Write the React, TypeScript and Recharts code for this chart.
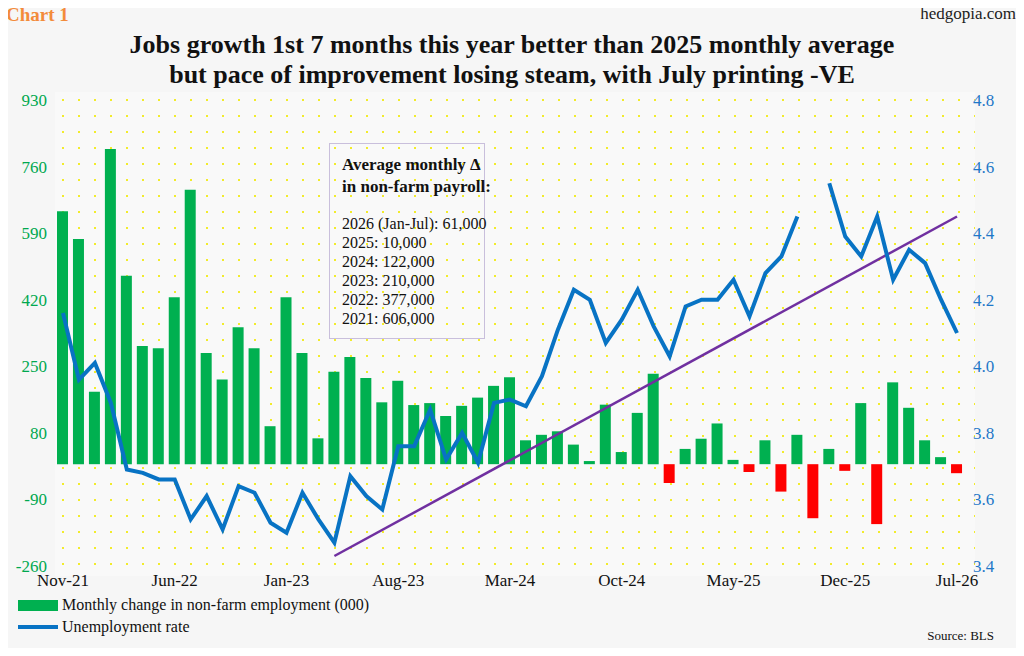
import { Bar, Cell, ComposedChart, Line, XAxis, YAxis } from 'recharts';

const months = [
  'Nov-21', 'Dec-21',
  'Jan-22', 'Feb-22', 'Mar-22', 'Apr-22', 'May-22', 'Jun-22', 'Jul-22', 'Aug-22', 'Sep-22', 'Oct-22', 'Nov-22', 'Dec-22',
  'Jan-23', 'Feb-23', 'Mar-23', 'Apr-23', 'May-23', 'Jun-23', 'Jul-23', 'Aug-23', 'Sep-23', 'Oct-23', 'Nov-23', 'Dec-23',
  'Jan-24', 'Feb-24', 'Mar-24', 'Apr-24', 'May-24', 'Jun-24', 'Jul-24', 'Aug-24', 'Sep-24', 'Oct-24', 'Nov-24', 'Dec-24',
  'Jan-25', 'Feb-25', 'Mar-25', 'Apr-25', 'May-25', 'Jun-25', 'Jul-25', 'Aug-25', 'Sep-25', 'Oct-25', 'Nov-25', 'Dec-25',
  'Jan-26', 'Feb-26', 'Mar-26', 'Apr-26', 'May-26', 'Jun-26', 'Jul-26',
];

const payrolls = [
  646, 575,
  185, 805, 481, 302, 296, 426, 701, 284, 216, 350, 296, 97,
  426, 284, 66, 236, 274, 220, 158, 213, 151, 156, 123, 149,
  170, 200, 222, 61, 75, 84, 50, 8, 152, 31, 131, 231,
  -48, 39, 65, 104, 11, -20, 61, -70, 75, -138, 39, -17,
  156, -153, 209, 144, 61, 18, -23,
];

const unemployment: (number | null)[] = [
  4.16, 3.96,
  4.01, 3.89, 3.69, 3.68, 3.66, 3.66, 3.54, 3.61, 3.51, 3.64, 3.62, 3.53,
  3.5, 3.62, 3.54, 3.47, 3.67, 3.61, 3.57, 3.76, 3.76, 3.87, 3.72, 3.8,
  3.71, 3.89, 3.9, 3.88, 3.97, 4.11, 4.23, 4.2, 4.07, 4.14, 4.23, 4.12,
  4.03, 4.18, 4.2, 4.2, 4.26, 4.15, 4.28, 4.33, 4.45, null, 4.55, 4.39,
  4.33, 4.45, 4.26, 4.35, 4.31, 4.2, 4.1,
];

// trend line endpoints
const trendStart = { month: 'Apr-23', value: 3.43 };
const trendEnd = { month: 'Jul-26', value: 4.45 };

const leftTicks = [-260, -90, 80, 250, 420, 590, 760, 930];
const rightTicks = [3.4, 3.6, 3.8, 4.0, 4.2, 4.4, 4.6, 4.8];

const averages = [
  '2026 (Jan-Jul): 61,000',
  '2025: 10,000',
  '2024: 122,000',
  '2023: 210,000',
  '2022: 377,000',
  '2021: 606,000',
];

const data = months.map((m, i) => ({
  month: m,
  jobs: payrolls[i],
  rate: unemployment[i],
  trend: m === trendStart.month ? trendStart.value : m === trendEnd.month ? trendEnd.value : null,
}));

const serif = '"Liberation Serif", "DejaVu Serif", serif';

export default function App() {
  return (
    <div style={{ position: 'relative', width: 1024, height: 656, margin: -8, background: '#f6f6f6', fontFamily: serif, overflow: 'hidden' }}>
      <div
        style={{
          position: 'absolute', left: 55, top: 92, width: 920, height: 484,
          background: '#f9f9f9',
          backgroundImage: 'radial-gradient(circle, #f2ec2a 1.1px, transparent 1.4px)',
          backgroundSize: '16px 16px',
        }}
      />
      <div style={{ position: 'absolute', left: 6, top: 5, color: '#f38b3a', fontSize: 19, fontWeight: 'bold', lineHeight: '20px' }}>Chart 1</div>
      <div style={{ position: 'absolute', right: 8, top: 4, color: '#222', fontSize: 17 }}>hedgopia.com</div>
      <div style={{ position: 'absolute', left: 0, width: 1024, top: 30, textAlign: 'center', fontWeight: 'bold', fontSize: 26, lineHeight: '30px', color: '#111' }}>
        Jobs growth 1st 7 months this year better than 2025 monthly average<br />
        but pace of improvement losing steam, with July printing -VE
      </div>
      <ComposedChart
        width={1024}
        height={656}
        data={data}
        margin={{ top: 100, right: 0, bottom: 60, left: 0 }}
        barSize={11}
        style={{ position: 'absolute', left: 0, top: 0 }}
      >
        <XAxis
          dataKey="month"
          interval={6}
          tickLine={false}
          axisLine={false}
          height={30}
          tick={{ fill: '#111', fontSize: 17, fontFamily: serif }}
        />
        <YAxis
          yAxisId="left"
          domain={[-260, 930]}
          ticks={leftTicks}
          width={55}
          tickLine={false}
          axisLine={false}
          tick={{ fill: '#00a84f', fontSize: 17, fontFamily: serif }}
        />
        <YAxis
          yAxisId="right"
          orientation="right"
          domain={[3.4, 4.8]}
          ticks={rightTicks}
          width={59}
          tickLine={false}
          axisLine={false}
          tickFormatter={(v: number) => v.toFixed(1)}
          tick={{ fill: '#1f78c8', fontSize: 17, fontFamily: serif }}
        />
        <Bar yAxisId="left" dataKey="jobs" isAnimationActive={false}>
          {data.map((d) => (
            <Cell key={d.month} fill={d.jobs < 0 ? '#ff0000' : '#00b050'} />
          ))}
        </Bar>
        <Line yAxisId="right" dataKey="trend" stroke="#7030a0" strokeWidth={2.5} dot={false} connectNulls isAnimationActive={false} />
        <Line yAxisId="right" dataKey="rate" stroke="#0873c4" strokeWidth={4} dot={false} isAnimationActive={false} />
      </ComposedChart>
      <div
        style={{
          position: 'absolute', left: 329, top: 143, width: 156, height: 196,
          border: '1px solid #c9bfdc', paddingLeft: 12, boxSizing: 'border-box', fontSize: 16, color: '#111', lineHeight: '19px',
        }}
      >
        <div style={{ fontWeight: 'bold', fontSize: 17, lineHeight: '22px', marginTop: 10, marginBottom: 16, whiteSpace: 'nowrap' }}>
          Average monthly Δ<br />in non-farm payroll:
        </div>
        {averages.map((a) => (
          <div key={a} style={{ whiteSpace: 'nowrap' }}>{a}</div>
        ))}
      </div>
      <div style={{ position: 'absolute', left: 18, top: 594, fontSize: 16, color: '#111' }}>
        <div style={{ display: 'flex', alignItems: 'center', height: 22 }}>
          <span style={{ display: 'inline-block', width: 40, height: 11, background: '#00b050', marginRight: 4 }} />
          Monthly change in non-farm employment (000)
        </div>
        <div style={{ display: 'flex', alignItems: 'center', height: 22 }}>
          <span style={{ display: 'inline-block', width: 40, height: 4, background: '#0873c4', marginRight: 4 }} />
          Unemployment rate
        </div>
      </div>
      <div style={{ position: 'absolute', right: 30, top: 628, fontSize: 13, color: '#111' }}>Source: BLS</div>
    </div>
  );
}
